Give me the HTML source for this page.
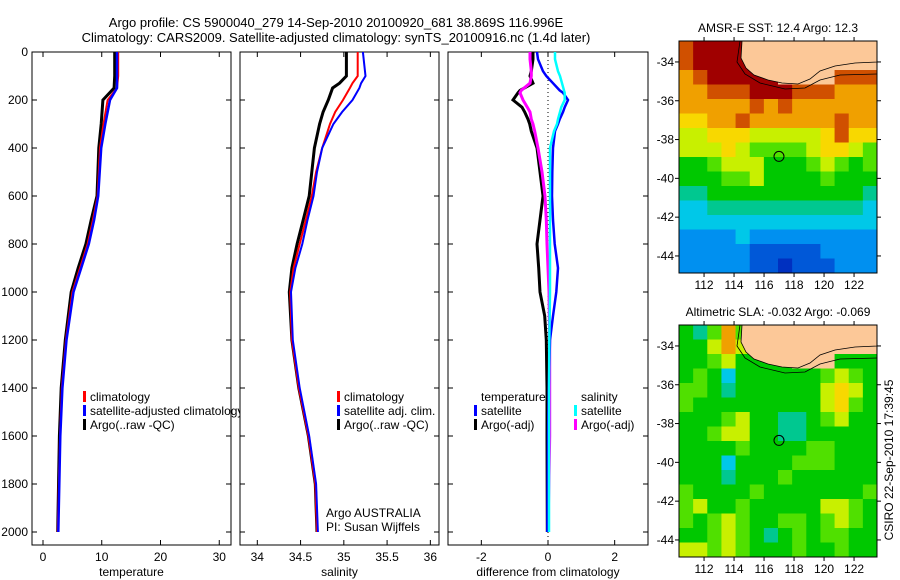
<!DOCTYPE html>
<html><head><meta charset="utf-8"><style>
body{margin:0;background:#fff}
svg{display:block;font-family:"Liberation Sans",sans-serif;font-size:12px}
</style></head><body>
<svg id="c" width="900" height="580" viewBox="0 0 900 580" xmlns="http://www.w3.org/2000/svg">
<text x="336" y="27" text-anchor="middle" font-size="13">Argo profile: CS 5900040_279 14-Sep-2010 20100920_681 38.869S 116.996E</text>
<text x="336" y="42" text-anchor="middle" font-size="13">Climatology: CARS2009. Satellite-adjusted climatology: synTS_20100916.nc (1.4d later)</text>
<g id="g"></g>
</svg>
<script>
// ---- data ----
const tDepth=[0,100,150,200,300,400,600,700,800,900,1000,1200,1400,1600,2000];
const tArgo=[12.2,12.2,12.1,10.2,9.9,9.5,9.2,8.2,7.3,6.0,4.8,3.8,3.1,2.8,2.5];
const tClim=[12.8,12.8,12.6,11.0,10.3,9.7,9.3,8.5,7.6,6.3,5.0,3.9,3.2,2.9,2.5];
const tSat=[12.6,12.6,12.6,11.4,10.6,9.9,9.4,8.7,7.8,6.5,5.2,4.0,3.3,2.95,2.6];
const sDepth=[0,100,130,150,200,250,300,400,500,600,700,800,900,1000,1200,1400,1600,1800,2000];
const sArgo=[35.03,35.03,34.95,34.87,34.82,34.76,34.72,34.66,34.63,34.60,34.53,34.46,34.40,34.37,34.40,34.48,34.59,34.67,34.69];
const sClim=[35.16,35.16,35.10,35.07,34.99,34.90,34.84,34.75,34.68,34.63,34.56,34.49,34.42,34.38,34.40,34.48,34.59,34.67,34.69];
const sSat=[35.22,35.25,35.20,35.18,35.10,34.98,34.88,34.75,34.69,34.65,34.58,34.52,34.44,34.39,34.41,34.49,34.60,34.68,34.70];
const dDepth=[0,30,80,100,130,160,170,200,230,250,280,300,330,400,500,600,700,800,900,1000,1100,1200,1400,1600,2000];
const dTArgo=[-0.45,-0.45,-0.5,-0.54,-0.45,-0.84,-0.9,-1.05,-0.78,-0.7,-0.6,-0.55,-0.5,-0.33,-0.24,-0.15,-0.24,-0.33,-0.28,-0.24,-0.1,-0.05,-0.03,-0.03,-0.02];
const dSArgo=[-0.54,-0.54,-0.5,-0.5,-0.54,-0.8,-0.84,-0.75,-0.62,-0.54,-0.5,-0.45,-0.4,-0.3,-0.18,-0.09,-0.05,-0.03,0,0.03,0.04,0.05,0.05,0.05,0.0];
const dTSat=[-0.33,-0.3,-0.15,-0.05,0.15,0.35,0.45,0.6,0.5,0.45,0.35,0.3,0.21,0.15,0.13,0.12,0.15,0.2,0.3,0.25,0.15,0.06,0.02,0.0,-0.02];
const dSSat=[0.21,0.21,0.3,0.36,0.42,0.48,0.5,0.5,0.4,0.36,0.3,0.27,0.18,0.06,0.06,0.06,0.06,0.06,0.06,0.06,0.05,0.04,0.03,0.03,0.03];
const depthTicks=[0,200,400,600,800,1000,1200,1400,1600,1800,2000];
const tTicks=[0,10,20,30], sTicks=[34,34.5,35,35.5,36], dTicks=[-2,0,2];
const lonTicks=[112,114,116,118,120,122], latTicks=[-34,-36,-38,-40,-42,-44];
const sstGrid=[
"A B B B B L L L L L L L L L","A B B B B B L L L L L L L L","9 A B B B B B L L L L A A A",
"9 9 A A A B B B A A A 9 9 9","9 9 9 9 9 A 9 A 9 9 9 9 9 9","8 8 9 9 A 9 9 9 9 9 9 A 9 9",
"7 7 8 8 8 7 7 7 7 7 8 A 8 8","7 7 7 8 7 6 6 6 6 7 8 8 7 6","5 5 6 7 7 7 5 5 5 6 7 6 5 6",
"5 5 5 6 6 7 5 5 5 5 6 5 5 5","4 4 5 5 5 5 5 5 5 5 5 5 5 4","3 3 4 4 4 4 4 4 4 4 4 4 4 3",
"3 3 3 3 3 3 3 3 3 3 3 3 3 3","2 2 2 2 3 2 2 2 2 2 2 2 2 2","2 2 2 2 2 1 1 1 1 1 2 2 2 2",
"2 2 2 2 2 1 1 0 1 1 1 2 2 2"];
const slaGrid=[
"5 4 6 9 6 L L L L L L L L L","5 5 7 9 7 5 L L L L L L L L","5 5 6 7 5 5 5 5 L L L 5 5 5",
"5 6 5 3 5 5 5 5 5 5 6 7 6 5","6 6 5 4 5 5 5 5 5 5 7 8 7 5","6 5 5 5 5 5 5 5 5 5 7 8 6 5",
"5 5 5 6 7 5 5 4 4 5 6 7 5 5","5 5 6 7 7 5 5 4 4 5 5 5 5 5","5 5 5 5 6 5 5 5 5 6 6 5 5 5",
"5 5 5 3 5 5 5 5 6 6 6 5 5 5","5 5 5 4 5 5 5 6 5 5 5 5 5 5","6 5 5 5 5 6 5 5 5 5 5 5 5 6",
"6 7 5 5 6 5 5 5 5 5 7 7 6 5","6 5 6 7 6 5 5 6 6 5 6 7 6 5","5 5 6 7 6 5 4 5 6 5 6 6 5 5",
"7 7 6 7 6 5 5 5 6 5 5 6 5 5"];
const argoLon=116.996, argoLat=-38.869;

// ---- drawing ----
const NS="http://www.w3.org/2000/svg", G=document.getElementById('g');
function el(tag,at,parent){const e=document.createElementNS(NS,tag);for(const k in at)e.setAttribute(k,at[k]);(parent||G).appendChild(e);return e;}
const yD=d=>52+d*0.24;
function panel(x0,x1,xmin,xmax,ticks,label,name,ylabels){
  const sx=v=>x0+(v-xmin)/(xmax-xmin)*(x1-x0);
  const r=el('rect',{x:x0,y:52,width:x1-x0,height:493,fill:'#fff',stroke:'#000','stroke-width':1});
  
  ticks.forEach(t=>{const x=sx(t);
    el('line',{x1:x,x2:x,y1:52,y2:57,stroke:'#000'});el('line',{x1:x,x2:x,y1:545,y2:540,stroke:'#000'});
    const tx=el('text',{x:x,y:561,'text-anchor':'middle'});tx.textContent=t;
    });
  depthTicks.forEach(d=>{const y=yD(d);
    el('line',{x1:x0,x2:x0+5,y1:y,y2:y,stroke:'#000'});el('line',{x1:x1,x2:x1-5,y1:y,y2:y,stroke:'#000'});
    if(ylabels){const tx=el('text',{x:28,y:y+4,'text-anchor':'end'});tx.textContent=d;
      }});
  const lt=el('text',{x:(x0+x1)/2,y:576,'text-anchor':'middle'});lt.textContent=label;
  
  return sx;
}
function line(sx,depths,vals,color,w,name){
  const pts=depths.map((d,i)=>sx(vals[i]).toFixed(1)+','+yD(d).toFixed(1)).join(' ');
  const p=el('polyline',{points:pts,fill:'none',stroke:color,'stroke-width':w});
  
}
function legend(x,y,color,text,name){
  if(color)el('rect',{x:x,y:y-10,width:3,height:11,fill:color});
  const t=el('text',{x:x+7,y:y});t.textContent=text;
  
}
// panel 1
let sx=panel(32,231,-1.87,32,tTicks,'temperature','temperature-panel',true);
line(sx,tDepth,tArgo,'#000',3,'temp-argo-line');
line(sx,tDepth,tClim,'#f00',2,'temp-climatology-line');
line(sx,tDepth,tSat,'#00f',2.5,'temp-satellite-line');
legend(83,401,'#f00','climatology','legend-climatology');
legend(83,415,'#00f','satellite-adjusted climatology','legend-satellite-adjusted');
legend(83,429,'#000','Argo(..raw -QC)','legend-argo');
// panel 2
sx=panel(240,439,33.8,36.1,sTicks,'salinity','salinity-panel',false);
line(sx,sDepth,sArgo,'#000',3,'sal-argo-line');
line(sx,sDepth,sClim,'#f00',2,'sal-climatology-line');
line(sx,sDepth,sSat,'#00f',2,'sal-satellite-line');
legend(337,401,'#f00','climatology','legend2-climatology');
legend(337,415,'#00f','satellite adj. clim.','legend2-satellite');
legend(337,429,'#000','Argo(..raw -QC)','legend2-argo');
legend(319,517,null,'Argo AUSTRALIA','credit-argo-australia');
legend(319,531,null,'PI: Susan Wijffels','credit-pi');
// panel 3
sx=panel(448,648,-3.0,3.0,dTicks,'difference from climatology','difference-panel',false);
el('line',{x1:sx(0),x2:sx(0),y1:52,y2:545,stroke:'#000','stroke-dasharray':'1,3'});
line(sx,dDepth,dTArgo,'#000',3,'diff-temp-argo-line');
line(sx,dDepth,dSArgo,'#f0f',3,'diff-sal-argo-line');
line(sx,dDepth,dTSat,'#00f',2.5,'diff-temp-satellite-line');
line(sx,dDepth,dSSat,'#0ff',2.5,'diff-sal-satellite-line');
legend(474,401,null,'temperature','legend3-temperature');
legend(474,415,'#00f','satellite','legend3-temp-satellite');
legend(474,429,'#000','Argo(-adj)','legend3-temp-argo');
legend(574,401,null,'salinity','legend3-salinity');
legend(574,415,'#0ff','satellite','legend3-sal-satellite');
legend(574,429,'#f0f','Argo(-adj)','legend3-sal-argo');
// maps
const cmap={'0':'#0030c0','1':'#0058d8','2':'#0090f0','3':'#00c8e8','4':'#00c890','5':'#00c800','6':'#50e000','7':'#c8f000','8':'#f8d800','9':'#f0a000','A':'#d05000','B':'#a00000','L':'#fcc898'};
function map(y0,grid,title,name){
  const x0=679,w=198,h=232;
  const lx=v=>x0+(v-110.33)*15, ly=v=>y0+(-32.92-v)*19.4;
  const grp=el('g',{});
  const cw=w/14,ch=h/16;
  grid.forEach((row,r)=>row.split(' ').forEach((c,k)=>{
    el('rect',{x:(x0+k*cw).toFixed(2),y:(y0+r*ch).toFixed(2),width:(cw+0.5).toFixed(2),height:(ch+0.5).toFixed(2),fill:cmap[c]},grp);}));
  const dy=y0-41;
  el('path',{d:`M742,${41+dy} L741,${58+dy} L746,${68+dy} L754,${75+dy} L768,${80+dy} L782,${83+dy} L798,${84+dy} L810,${79+dy} L820,${71+dy} L835,${66+dy} L855,${63+dy} L877,${62+dy} L877,${41+dy} Z`,fill:'#fcc898',stroke:'#000','stroke-width':0.8},grp);
  el('path',{d:`M740,${41+dy} L737,${62+dy} L745,${74+dy} L760,${83+dy} L785,${89+dy} L805,${88+dy} L820,${80+dy} L840,${75+dy} L877,${74+dy}`,fill:'none',stroke:'#000','stroke-width':0.8},grp);
  el('rect',{x:x0,y:y0,width:w,height:h,fill:'none',stroke:'#000'},grp);
  lonTicks.forEach(v=>{const x=lx(v);el('line',{x1:x,x2:x,y1:y0,y2:y0-4,stroke:'#000'},grp);el('line',{x1:x,x2:x,y1:y0+h,y2:y0+h+4,stroke:'#000'},grp);
    const t=el('text',{x:x,y:y0+h+16,'text-anchor':'middle'},grp);t.textContent=v;
    });
  latTicks.forEach(v=>{const y=ly(v);el('line',{x1:x0,x2:x0-4,y1:y,y2:y,stroke:'#000'},grp);el('line',{x1:x0+w,x2:x0+w+4,y1:y,y2:y,stroke:'#000'},grp);
    const t=el('text',{x:x0-5,y:y+4,'text-anchor':'end'},grp);t.textContent=v;
    });
  el('circle',{cx:lx(argoLon),cy:ly(argoLat),r:5,fill:'none',stroke:'#000'},grp);
  const t=el('text',{x:x0+w/2,y:y0-9,'text-anchor':'middle'},grp);t.textContent=title;
  
}
map(41,sstGrid,'AMSR-E SST: 12.4  Argo: 12.3','sst-map');
map(325,slaGrid,'Altimetric SLA: -0.032  Argo: -0.069','sla-map');
const ct=el('text',{x:893,y:460,'text-anchor':'middle',transform:'rotate(-90 893 460)'});
ct.textContent='CSIRO 22-Sep-2010 17:39:45';


</script>
</body></html>
